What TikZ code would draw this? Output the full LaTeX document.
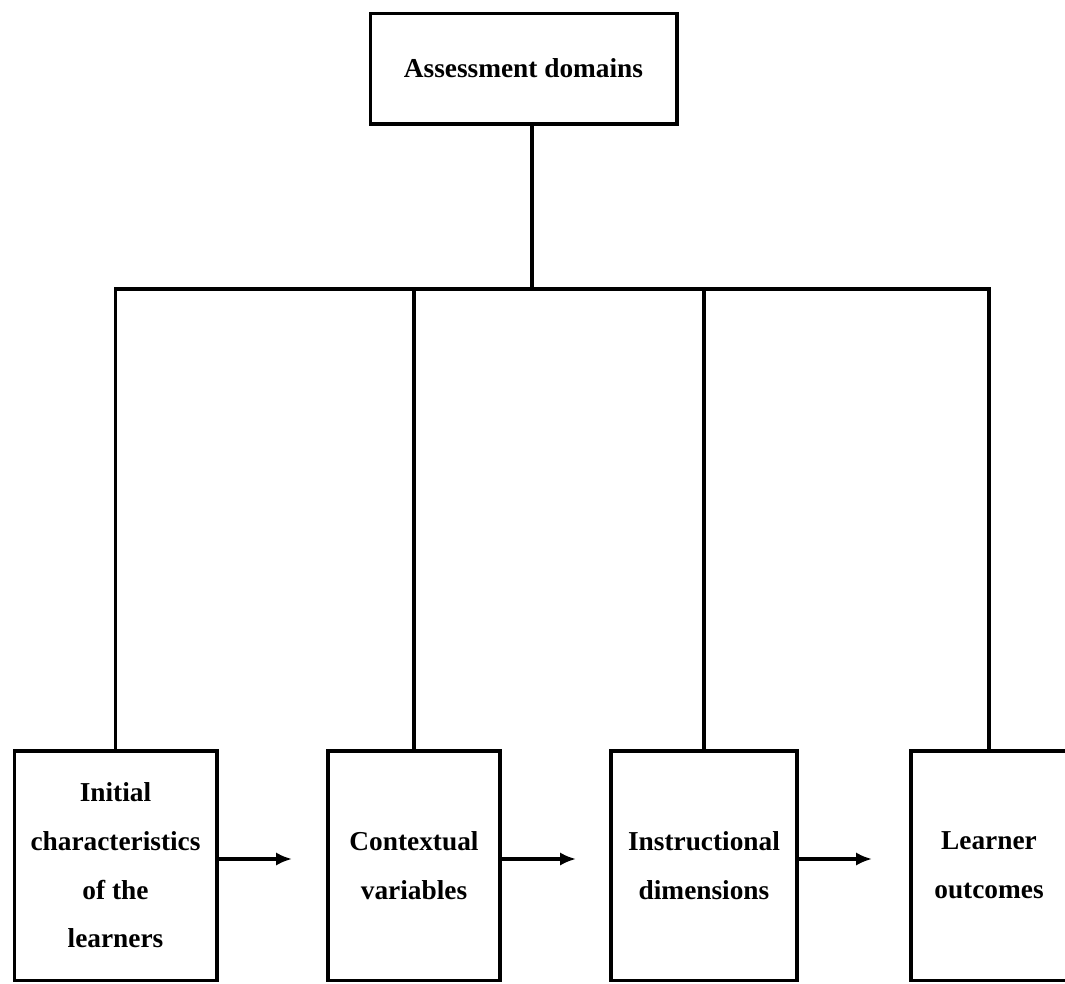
\documentclass[tikz,border=0pt]{standalone}
\usepackage{fontspec}
\setmainfont{Liberation Serif}
\usetikzlibrary{arrows.meta}
\begin{document}
\begin{tikzpicture}[x=0.75pt,y=-0.75pt,
  line width=2.3pt,
  box/.style={draw, line width=2.5pt, rectangle, inner sep=0pt, align=center,
    font={\fontsize{20.5}{36.5}\selectfont\bfseries}},
  arr/.style={-{Latex[length=12pt,width=10pt]}, line width=2.3pt}]
\useasboundingbox (0,0) rectangle (1065,983);
\fill[white] (0,0) rectangle (1065,983);
% top node
\node[box, minimum width=230pt, minimum height=83pt] (top) at (523.5,68.5) {Assessment domains};
% bottom nodes
\node[box, minimum width=152pt, minimum height=172pt] (b1) at (115.5,865.5) {Initial\\characteristics\\of the\\learners};
\node[box, minimum width=129pt, minimum height=172pt] (b2) at (414,865.5) {Contextual\\variables};
\node[box, minimum width=139.5pt, minimum height=172pt] (b3) at (704,865.5) {Instructional\\dimensions};
\node[box, minimum width=117pt, minimum height=172pt] (b4) at (989,865.5) {Learner\\outcomes};
% junction
\coordinate (j) at (532,289);
\draw (top.south -| j) -- (j);
\draw (b1.north) -- (b1.north |- j) -- (b4.north |- j) -- (b4.north);
\draw (b2.north) -- (b2.north |- j);
\draw (b3.north) -- (b3.north |- j);
% arrows
\coordinate (e1) at (292,859);
\coordinate (e2) at (576,859);
\coordinate (e3) at (872,859);
\draw[arr] (b1.east |- e1) -- (e1);
\draw[arr] (b2.east |- e2) -- (e2);
\draw[arr] (b3.east |- e3) -- (e3);
\end{tikzpicture}
\end{document}
